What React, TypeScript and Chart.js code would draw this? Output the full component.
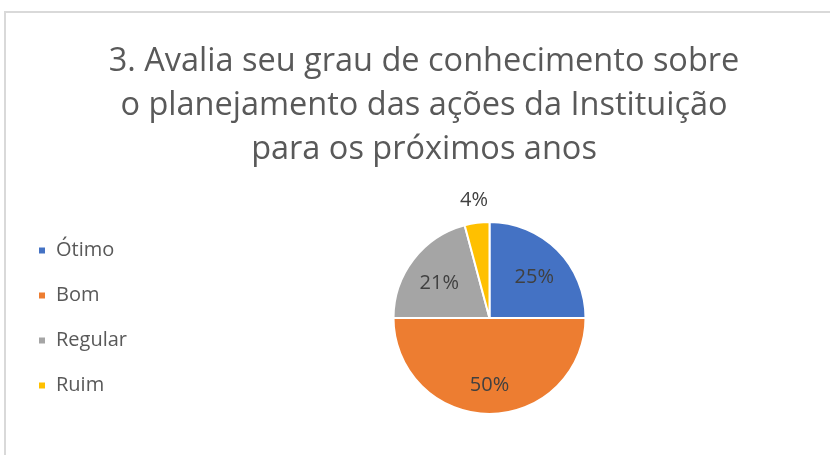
import React, { useEffect, useRef } from "react";
import { Chart, registerables } from "chart.js";

Chart.register(...registerables);

const categories = ["Ótimo", "Bom", "Regular", "Ruim"];
const values = [6, 12, 5, 1];
const colors = ["#4472C4", "#ED7D31", "#A5A5A5", "#FFC000"];
const titleLines = [
  "3. Avalia seu grau de conhecimento sobre",
  "o planejamento das ações da Instituição",
  "para os próximos anos",
];

const FONT = "'Open Sans', sans-serif";
const LEGEND_WIDTH = 136;

const legendWidthPlugin = {
  id: "legendWidth",
  afterInit(chart: any) {
    const lg = chart.legend;
    if (!lg) return;
    const orig = lg.fit.bind(lg);
    lg.fit = function () {
      orig();
      this.width = LEGEND_WIDTH;
    };
  },
};

const labelPlugin = {
  id: "pctLabels",
  afterDatasetsDraw(chart: any) {
    const ctx = chart.ctx;
    const meta = chart.getDatasetMeta(0);
    const data = chart.data.datasets[0].data as number[];
    const total = data.reduce((a, b) => a + b, 0);
    ctx.save();
    ctx.font = `20px ${FONT}`;
    ctx.fillStyle = "#404040";
    ctx.textAlign = "center";
    ctx.textBaseline = "middle";
    meta.data.forEach((arc: any, i: number) => {
      const p = arc.getProps(["x", "y", "startAngle", "endAngle", "outerRadius"], true);
      const mid = (p.startAngle + p.endAngle) / 2;
      const frac = data[i] / total;
      const r = frac < 0.1 ? p.outerRadius + 23 : p.outerRadius * 0.66;
      const tx = p.x + Math.cos(mid) * r;
      const ty = p.y + Math.sin(mid) * r + (frac < 0.1 ? 0 : 4);
      ctx.fillText(Math.round(frac * 100) + "%", tx, ty);
    });
    ctx.restore();
  },
};

export default function App() {
  const ref = useRef<HTMLCanvasElement | null>(null);
  useEffect(() => {
    if (!ref.current) return;
    const chart = new Chart(ref.current, {
      type: "pie",
      data: {
        labels: categories,
        datasets: [
          {
            data: values,
            backgroundColor: colors,
            borderColor: "#ffffff",
            borderWidth: 2,
            hoverOffset: 0,
          },
        ],
      },
      options: {
        animation: false,
        responsive: false,
        radius: 96,
        layout: { padding: { left: 13, right: -5, top: 1, bottom: 31 } },
        plugins: {
          title: {
            display: true,
            text: titleLines,
            color: "#595959",
            font: { family: FONT, size: 32.5, weight: "normal", lineHeight: 1.354 },
            padding: { top: 39, bottom: 40 },
          },
          legend: {
            position: "left",
            fullSize: false,
            labels: {
              boxWidth: 8,
              boxHeight: 8,
              padding: 25,
              color: "#595959",
              font: { family: FONT, size: 20 },
            },
          },
          tooltip: { enabled: false },
        },
      } as any,
      plugins: [legendWidthPlugin, labelPlugin],
    });
    return () => chart.destroy();
  }, []);
  return (
    <div
      style={{
        position: "absolute",
        left: 0,
        top: 0,
        width: 830,
        height: 455,
        overflow: "hidden",
        background: "#ffffff",
      }}
    >
      <div
        style={{
          position: "absolute",
          left: 4,
          top: 11,
          width: 900,
          height: 600,
          border: "2px solid #d9d9d9",
        }}
      />
      <canvas
        ref={ref}
        width={830}
        height={455}
        style={{ position: "absolute", left: 0, top: 0 }}
      />
    </div>
  );
}
